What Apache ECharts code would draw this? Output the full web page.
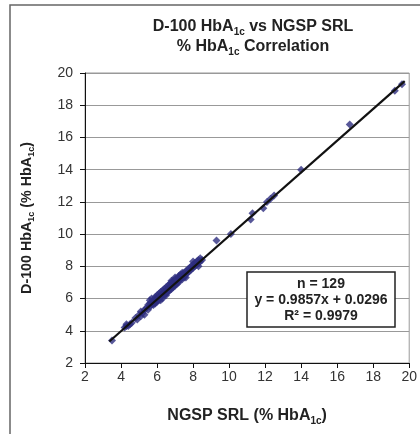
<!DOCTYPE html>
<html>
<head>
<meta charset="utf-8">
<script src="https://cdn.jsdelivr.net/npm/echarts@6/dist/echarts.min.js"></script>
<style>html,body{margin:0;padding:0;background:#fff}#c{width:420px;height:434px}</style>
</head>
<body>
<div id="c"></div>
<script>
// NGSP SRL (% HbA1c) values (x) and D-100 (% HbA1c) values (y)
const ngsp = [
  3.5,4.2,4.3,4.3,4.4,4.5,4.6,4.8,4.9,5.0,5.1,5.1,5.2,5.3,5.3,5.4,5.5,5.5,
  5.6,5.6,5.6, 5.7,5.7,5.7, 5.8,5.8,5.8,
  5.9,5.9,5.9,5.9, 6.0,6.0,6.0,6.0, 6.1,6.1,6.1,6.1, 6.2,6.2,6.2,6.2,
  6.3,6.3,6.3,6.3, 6.4,6.4,6.4,6.4, 6.5,6.5,6.5,6.5,6.5, 6.6,6.6,6.6,6.6,
  6.7,6.7,6.7,6.7, 6.8,6.8,6.8,6.8,6.8, 6.9,6.9,6.9,6.9, 7.0,7.0,7.0,7.0,7.0,
  7.1,7.1,7.1, 7.2,7.2,7.2,7.2, 7.3,7.3,7.3, 7.4,7.4,7.4,7.4, 7.5,7.5,7.5,
  7.6,7.6,7.6, 7.7,7.7, 7.8,7.8, 7.9,7.9, 8.0,8.0,8.0, 8.1,8.1, 8.2,8.2,
  8.3,8.3,8.3, 8.4,8.4, 8.5,
  9.3,10.1,11.2,11.3,11.9,12.1,12.3,12.5,14.0,16.7,19.2,19.6
];
const d100 = [
  3.4,4.2,4.3,4.4,4.3,4.4,4.5,4.8,4.7,5.0,4.9,5.2,5.1,5.3,5.0,5.4,5.3,5.6,
  5.5,5.7,5.9, 5.6,5.8,6.0, 5.7,5.9,5.6,
  5.8,6.0,6.1,5.7, 5.9,6.0,6.2,5.8, 6.0,6.1,6.3,5.9, 6.1,6.2,6.4,5.9,
  6.2,6.3,6.5,6.0, 6.3,6.4,6.6,6.2, 6.4,6.5,6.7,6.3,6.2, 6.5,6.6,6.8,6.4,
  6.6,6.7,6.9,6.5, 6.7,6.9,7.0,6.6,7.1, 6.8,6.9,7.1,6.7, 6.9,7.0,7.2,6.8,7.3,
  7.0,7.2,6.9, 7.1,7.3,7.0,7.4, 7.2,7.4,7.5, 7.3,7.5,7.2,7.6, 7.4,7.6,7.3,
  7.5,7.7,7.3, 7.6,7.8, 7.7,7.9, 7.8,8.0, 7.9,8.1,8.3, 8.0,8.2, 8.1,8.3,
  8.2,8.4,8.0, 8.3,8.5, 8.4,
  9.6,10.0,10.9,11.3,11.6,12.0,12.2,12.4,14.0,16.8,18.9,19.3
];
// Regression line
const trendSlope = 0.9857;
const trendIntercept = 0.0296;
const trendRange = [3.35, 19.75];
const statsLines = ['n = 129', 'y = 0.9857x + 0.0296', 'R\u00b2 = 0.9979'];
const xTicks = [2,4,6,8,10,12,14,16,18,20];
const yTicks = [2,4,6,8,10,12,14,16,18,20];

const FONT = '"Liberation Sans", Arial, sans-serif';
const points = ngsp.map((x, i) => [x, d100[i]]);
const trend = trendRange.map(x => [x, trendSlope * x + trendIntercept]);

const chart = echarts.init(document.getElementById('c'), null, {renderer: 'canvas'});
const subRich = (size) => ({
  n: {fontSize: size, fontWeight: 'bold', color: '#222', fontFamily: FONT, lineHeight: size + 4},
  s: {fontSize: Math.round(size * 0.65), fontWeight: 'bold', color: '#222', fontFamily: FONT, lineHeight: Math.round(size * 0.65), verticalAlign: 'bottom'}
});
chart.setOption({
  animation: false,
  backgroundColor: '#fff',
  title: {
    text: '{n|D-100 HbA}{s|1c}{n| vs NGSP SRL}\n{n|% HbA}{s|1c}{n| Correlation}',
    left: 248, top: 12, textAlign: 'center',
    textStyle: {rich: subRich(16), align: 'center'}
  },
  grid: {left: 85, right: 8, top: 73, bottom: 71, show: true, borderColor: '#999', borderWidth: 1},
  xAxis: {
    type: 'value', min: xTicks[0], max: xTicks[xTicks.length - 1], interval: 2,
    name: '{n|NGSP SRL (% HbA}{s|1c}{n|)}', nameLocation: 'middle', nameGap: 43,
    nameTextStyle: {rich: subRich(16)},
    axisLine: {show: true, onZero: false, lineStyle: {color: '#111', width: 1}},
    axisTick: {show: true, inside: false, length: 5, lineStyle: {color: '#111'}},
    axisLabel: {margin: 7, fontSize: 14, color: '#333', fontFamily: FONT},
    splitLine: {show: false}
  },
  yAxis: {
    type: 'value', min: yTicks[0], max: yTicks[yTicks.length - 1], interval: 2,
    name: '{n|D-100 HbA}{s|1c}{n| (% HbA}{s|1c}{n|)}', nameLocation: 'middle', nameGap: 49, nameRotate: 90,
    nameTextStyle: {rich: subRich(14.3)},
    axisLine: {show: true, onZero: false, lineStyle: {color: '#111', width: 1}},
    axisTick: {show: true, inside: false, length: 5, lineStyle: {color: '#111'}},
    axisLabel: {margin: 12, fontSize: 14, color: '#333', fontFamily: FONT},
    splitLine: {show: true, lineStyle: {color: '#999', width: 1}}
  },
  series: [
    {
      type: 'scatter', data: points, symbol: 'diamond', symbolSize: 8,
      itemStyle: {color: '#2e2e80'}, z: 2
    },
    {
      type: 'line', data: trend, symbol: 'none', lineStyle: {color: '#111', width: 2.2}, z: 3
    }
  ],
  graphic: [
    {type: 'rect', shape: {x: 10, y: 5, width: 420, height: 440}, style: {fill: 'none', stroke: '#666', lineWidth: 1.5}, z: 0, silent: true},
    {type: 'rect', shape: {x: 247, y: 272, width: 148, height: 55}, style: {fill: '#fff', stroke: '#222', lineWidth: 1.5}, z: 10},
    {type: 'text', x: 321, y: 300, style: {text: statsLines.join('\n'), fontFamily: FONT, fontSize: 14, fontWeight: 'bold', fill: '#222', align: 'center', verticalAlign: 'middle', lineHeight: 16}, z: 11}
  ]
});
</script>
</body>
</html>
